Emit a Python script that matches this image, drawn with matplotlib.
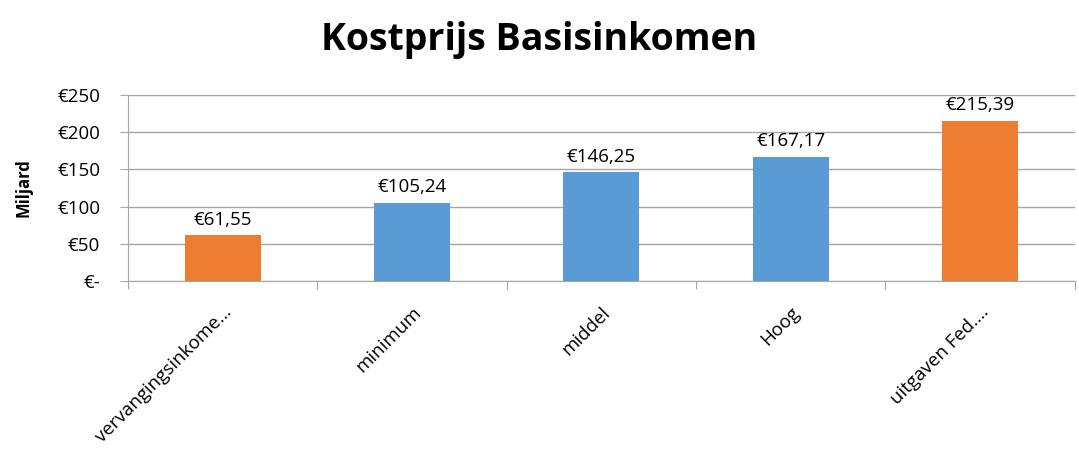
import matplotlib
matplotlib.use("Agg")
import matplotlib.pyplot as plt
import numpy as np
from matplotlib.ticker import FuncFormatter, FixedLocator

plt.rcParams["font.family"] = ["Open Sans", "DejaVu Sans"]

# data
categories = ["vervangingsinkome…", "minimum", "middel", "Hoog", "uitgaven Fed.…"]
values = [61.55, 105.24, 146.25, 167.17, 215.39]
bar_colors = ["#ED7D31", "#5B9BD5", "#5B9BD5", "#5B9BD5", "#ED7D31"]
value_labels = ["€61,55", "€105,24", "€146,25", "€167,17", "€215,39"]
y_ticks = [0, 50, 100, 150, 200, 250]

GRID = "#A6A6A6"
TEXT = "#000000"

fig = plt.figure(figsize=(10.79, 4.51), dpi=100)
ax = fig.add_axes([0.1186, 0.377, 0.8774, 0.412])

x = np.arange(len(categories))
ax.bar(x, values, width=0.4, color=bar_colors, zorder=3)

for xi, v, lab in zip(x, values, value_labels):
    ax.text(xi, v + 9, lab, ha="center", va="bottom", fontsize=13.5, color=TEXT)

ax.set_xlim(-0.5, len(categories) - 0.5)
ax.set_ylim(0, 250)
ax.set_yticks(y_ticks)
ax.yaxis.set_major_formatter(FuncFormatter(lambda v, p: "€-" if v == 0 else f"€{int(v)}"))
ax.yaxis.grid(True, color=GRID, linewidth=1, zorder=0)

# category labels at centers, tick marks at boundaries
ax.xaxis.set_major_locator(FixedLocator(np.arange(-0.5, len(categories))))
ax.set_xticklabels([])
ax.xaxis.set_minor_locator(FixedLocator(x))
ax.set_xticklabels(categories, minor=True, rotation=45, ha="right",
                   rotation_mode="anchor", fontsize=13.5)
ax.tick_params(axis="x", which="minor", length=0, pad=16)
ax.tick_params(axis="x", which="major", length=6, color=GRID, direction="out")
ax.tick_params(axis="y", length=6, color=GRID, direction="out", labelsize=13.5, pad=14)

for s in ["top", "right"]:
    ax.spines[s].set_visible(False)
ax.spines["left"].set_color(GRID)
ax.spines["bottom"].set_color(GRID)

ax.set_ylabel("Miljard", fontsize=12, fontweight="bold", labelpad=18)

fig.text(0.5, 0.912, "Kostprijs Basisinkomen", ha="center", va="center",
         fontsize=27, fontweight="bold", color=TEXT)

fig.savefig("out.png", dpi=100)
